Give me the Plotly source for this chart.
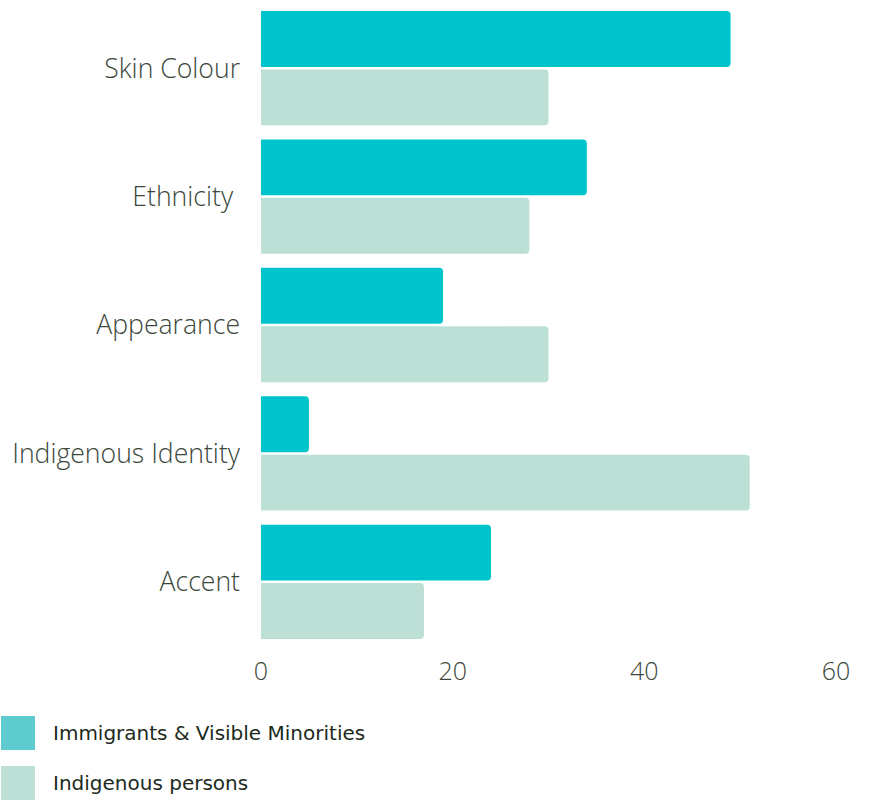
import plotly.graph_objects as go

categories = ["Skin Colour", "Ethnicity\u00a0", "Appearance", "Indigenous Identity", "Accent"]
immigrants = [49, 34, 19, 5, 24]
indigenous = [30, 28, 30, 51, 17]
series_names = ["Immigrants & Visible Minorities", "Indigenous persons"]
x_ticks = [0, 20, 40, 60]

teal = "#00C4CC"
mint = "#BCE0D5"

fig = go.Figure()
fig.add_trace(go.Bar(y=categories, x=immigrants, orientation="h", name=series_names[0],
                     marker=dict(color=teal, line=dict(width=0)), showlegend=False))
fig.add_trace(go.Bar(y=categories, x=indigenous, orientation="h", name=series_names[1],
                     marker=dict(color=mint, line=dict(width=0)), showlegend=False))

W, H = 869, 801
ml, mr, mt, mb = 261, 33, 4, 155
fig.update_layout(
    width=W, height=H,
    margin=dict(l=ml, r=mr, t=mt, b=mb, pad=0),
    paper_bgcolor="white", plot_bgcolor="white",
    barmode="group", bargap=0.09, bargroupgap=0.043,
    barcornerradius=4,
    xaxis=dict(range=[0, 60], tickvals=x_ticks, showgrid=False, zeroline=False,
               showline=False, ticks="", ticklabelstandoff=8, fixedrange=True,
               tickfont=dict(family="Open Sans", size=25, color="#3B473B", weight=300)),
    yaxis=dict(autorange="reversed", showgrid=False, zeroline=False, showline=False,
               ticks="", ticklabelstandoff=20, fixedrange=True,
               tickfont=dict(family="Open Sans", size=26.6, color="#3B473B", weight=300)),
)

# manual legend
leg_colors = ["#5ECBCF", mint]
leg_y = [716, 766]
pw, ph = W - ml - mr, H - mt - mb
for name, col, y0 in zip(series_names, leg_colors, leg_y):
    fig.add_shape(type="rect", xref="paper", yref="paper",
                  x0=(1 - ml) / pw, x1=(35 - ml) / pw,
                  y0=(H - mb - (y0 + 34)) / ph, y1=(H - mb - y0) / ph,
                  fillcolor=col, line=dict(width=0))
    fig.add_annotation(xref="paper", yref="paper",
                       x=(51 - ml) / pw, y=(H - mb - (y0 + 17)) / ph,
                       xanchor="left", yanchor="middle", showarrow=False, text=name,
                       font=dict(family="DejaVu Sans", size=20, color="#1C2A1C"))

fig.write_html("out.html", config={"displayModeBar": False},
               post_script="document.body.style.margin='0';")
